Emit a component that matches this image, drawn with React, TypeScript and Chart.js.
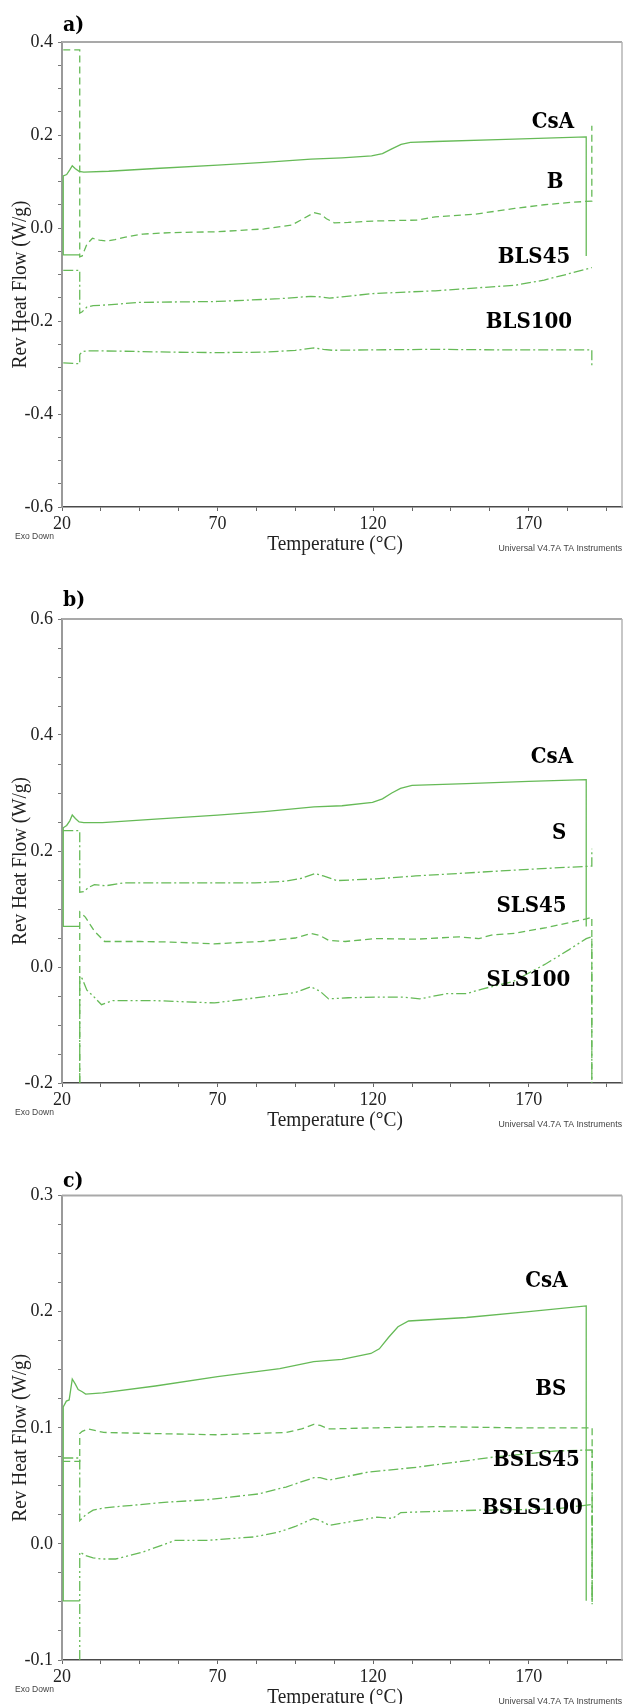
import React, { useEffect, useRef } from 'react';
import { Chart, registerables } from 'chart.js';

Chart.register(...registerables);

const LINE_COLOR = '#66ba57';

// ---------- shared axis ticks ----------
const xTickValues = [20, 32.5, 45, 57.5, 70, 82.5, 95, 107.5, 120, 132.5, 145, 157.5, 170, 182.5, 195];
const xTickLabels = [20, 70, 120, 170];

const aYTicks = [-0.6, -0.55, -0.5, -0.45, -0.4, -0.35, -0.3, -0.25, -0.2, -0.15, -0.1, -0.05, 0, 0.05, 0.1, 0.15, 0.2, 0.25, 0.3, 0.35, 0.4];
const aYLabels = [-0.6, -0.4, -0.2, 0, 0.2, 0.4];
const bYTicks = [-0.2, -0.15, -0.1, -0.05, 0, 0.05, 0.1, 0.15, 0.2, 0.25, 0.3, 0.35, 0.4, 0.45, 0.5, 0.55, 0.6];
const bYLabels = [-0.2, 0, 0.2, 0.4, 0.6];
const cYTicks = [-0.1, -0.075, -0.05, -0.025, 0, 0.025, 0.05, 0.075, 0.1, 0.125, 0.15, 0.175, 0.2, 0.225, 0.25, 0.275, 0.3];
const cYLabels = [-0.1, 0, 0.1, 0.2, 0.3];

// ---------- panel a ----------
const aCsA_T = [25.7, 20.4, 20.4, 21.5, 22.5, 23.3, 24.2, 25.5, 27, 35, 50, 70, 85, 100, 110, 119.5, 123, 126, 129, 132, 140, 160, 188.5, 188.5];
const aCsA_V = [-0.058, -0.058, 0.112, 0.115, 0.125, 0.134, 0.128, 0.122, 0.12, 0.122, 0.128, 0.135, 0.141, 0.148, 0.151, 0.155, 0.16, 0.17, 0.18, 0.184, 0.186, 0.19, 0.196, -0.06];
const aB_T = [20.4, 25.7, 25.7, 26.5, 28, 29.8, 32, 34.4, 37, 40, 46, 55, 70, 85, 93.7, 97, 101, 103, 105, 107.5, 112, 120, 134, 140, 153, 165.5, 175, 183.4, 190.3, 190.3];
const aB_V = [0.383, 0.383, -0.062, -0.06, -0.035, -0.022, -0.026, -0.028, -0.025, -0.02, -0.013, -0.01, -0.008, -0.002, 0.006, 0.018, 0.033, 0.03, 0.02, 0.011, 0.012, 0.015, 0.017, 0.024, 0.03, 0.042, 0.05, 0.055, 0.058, 0.22];
const aBLS45_T = [20.4, 25.7, 25.7, 26.5, 28, 30, 33, 45, 70, 90, 100, 103, 106, 110, 120, 140, 155, 165.8, 175, 182, 190.3];
const aBLS45_V = [-0.091, -0.091, -0.183, -0.18, -0.17, -0.167, -0.166, -0.16, -0.158, -0.152, -0.147, -0.148, -0.151, -0.148, -0.141, -0.135, -0.128, -0.123, -0.112, -0.1, -0.085];
const aBLS100_T = [20.4, 25.7, 25.7, 26.5, 28, 40, 55, 70, 85, 95, 101, 104, 107, 120, 140, 160, 175, 190.3, 190.3];
const aBLS100_V = [-0.29, -0.292, -0.272, -0.266, -0.264, -0.265, -0.267, -0.268, -0.267, -0.263, -0.258, -0.261, -0.263, -0.262, -0.261, -0.262, -0.262, -0.262, -0.296];
const aLabelNames = ['CsA', 'B', 'BLS45', 'BLS100'];
const aLabelT = [177.8, 178.5, 171.7, 170.1];
const aLabelV = [0.215, 0.086, -0.075, -0.215];

// ---------- panel b ----------
const bCsA_T = [25.7, 20.4, 20.4, 21.5, 22.5, 23.3, 24.3, 25.5, 27, 33, 50, 70, 85, 101, 110, 119.8, 123, 126, 128.8, 132.5, 150, 170, 188.5, 188.5];
const bCsA_V = [0.07, 0.07, 0.24, 0.244, 0.252, 0.262, 0.256, 0.25, 0.249, 0.249, 0.255, 0.262, 0.268, 0.276, 0.278, 0.284, 0.29, 0.3, 0.308, 0.313, 0.316, 0.32, 0.323, 0.07];
const bS_T = [20.4, 25.7, 25.7, 27, 28.5, 30.4, 34, 39.7, 60, 82, 92, 97, 101.3, 104, 108.3, 121, 133.7, 152.8, 172, 190.3, 190.3];
const bS_V = [0.235, 0.235, 0.129, 0.13, 0.137, 0.142, 0.14, 0.145, 0.145, 0.145, 0.148, 0.153, 0.161, 0.157, 0.149, 0.152, 0.157, 0.163, 0.169, 0.174, 0.204];
const bSLS45_T = [25.7, 25.7, 27.5, 30.4, 33.7, 45, 55, 68.9, 84, 95, 100, 103, 105.7, 111, 121, 134, 147.6, 154, 158, 165.5, 175.7, 188.5, 190.3, 190.3];
const bSLS45_V = [-0.2, 0.095, 0.086, 0.062, 0.044, 0.044, 0.043, 0.04, 0.044, 0.05, 0.058, 0.054, 0.046, 0.044, 0.049, 0.048, 0.052, 0.049, 0.055, 0.058, 0.068, 0.083, 0.086, -0.2];
const bSLS100_T = [25.7, 25.7, 26.5, 28, 30, 32.7, 36.3, 50, 69, 84, 95, 100, 103, 105.7, 112, 121, 130, 135, 143.6, 150, 155, 165, 175.7, 183, 188.5, 190.3, 190.3];
const bSLS100_V = [-0.2, -0.015, -0.02, -0.04, -0.05, -0.065, -0.058, -0.058, -0.062, -0.052, -0.044, -0.034, -0.042, -0.055, -0.053, -0.052, -0.052, -0.055, -0.046, -0.046, -0.038, -0.025, 0.006, 0.03, 0.049, 0.052, -0.2];
const bLabelNames = ['CsA', 'S', 'SLS45', 'SLS100'];
const bLabelT = [177.5, 179.8, 170.9, 169.9];
const bLabelV = [0.351, 0.221, 0.095, -0.032];

// ---------- panel c ----------
const cCsA_T = [25.7, 20.4, 20.4, 21.4, 22.3, 23.3, 24.2, 25.2, 26.5, 27.6, 33, 50, 70, 90, 100.9, 110, 119.3, 122, 125, 128, 131.4, 150, 170, 188.5, 188.5];
const cCsA_V = [-0.049, -0.049, 0.118, 0.123, 0.124, 0.142, 0.138, 0.133, 0.131, 0.129, 0.13, 0.136, 0.144, 0.151, 0.157, 0.159, 0.164, 0.168, 0.178, 0.187, 0.192, 0.195, 0.2, 0.205, -0.049];
const cBS_T = [20.4, 25.7, 25.7, 26.5, 28.3, 33.4, 50, 70, 92, 97, 100.9, 103, 105.9, 121.2, 140.3, 165.8, 190.4, 190.4];
const cBS_V = [0.071, 0.071, 0.095, 0.097, 0.099, 0.096, 0.095, 0.094, 0.096, 0.099, 0.103, 0.102, 0.099, 0.1, 0.101, 0.1, 0.1, -0.052];
const cBSLS45_T = [20.4, 25.7, 25.7, 27.6, 30, 33.4, 53.8, 66.5, 83, 92, 100.9, 103, 105.9, 118.7, 133.9, 145.4, 159.4, 178.5, 190.4, 190.4];
const cBSLS45_V = [0.074, 0.074, 0.02, 0.025, 0.029, 0.031, 0.036, 0.038, 0.043, 0.049, 0.057, 0.057, 0.055, 0.062, 0.066, 0.07, 0.075, 0.08, 0.081, -0.052];
const cBSLS100_T = [25.7, 25.7, 27.6, 30, 32.8, 37.2, 46.1, 56.3, 66.5, 81.7, 89.4, 95, 100.9, 103, 105.9, 121.2, 126.3, 128.9, 140.3, 153, 178.5, 190.4, 190.4];
const cBSLS100_V = [-0.1, -0.007, -0.01, -0.012, -0.013, -0.013, -0.007, 0.003, 0.003, 0.006, 0.01, 0.015, 0.022, 0.02, 0.016, 0.023, 0.022, 0.027, 0.028, 0.029, 0.03, 0.034, -0.052];
const cLabelNames = ['CsA', 'BS', 'BSLS45', 'BSLS100'];
const cLabelT = [175.7, 177.1, 172.5, 171.2];
const cLabelV = [0.221, 0.128, 0.067, 0.0255];

// ---------- line styles ----------
const SOLID: number[] = [];
const DASH = [7, 4];
const DASH_DOT = [10, 3, 2, 3];
const DASH_DOT_DOT = [10, 3, 2, 3, 2, 3];

type Series = { name: string; t: number[]; v: number[]; dash: number[] };
type Panel = {
  tag: string;
  canvasH: number;
  plotTop: number;
  plotBottom: number;
  yMin: number;
  yMax: number;
  yTicks: number[];
  yLabels: number[];
  series: Series[];
  labelNames: string[];
  labelT: number[];
  labelV: number[];
  tagY: number;
};

const panels: Panel[] = [
  {
    tag: 'a)', canvasH: 565, plotTop: 42, plotBottom: 507, yMin: -0.6, yMax: 0.4,
    yTicks: aYTicks, yLabels: aYLabels, tagY: 31,
    series: [
      { name: 'CsA', t: aCsA_T, v: aCsA_V, dash: SOLID },
      { name: 'B', t: aB_T, v: aB_V, dash: DASH },
      { name: 'BLS45', t: aBLS45_T, v: aBLS45_V, dash: DASH_DOT },
      { name: 'BLS100', t: aBLS100_T, v: aBLS100_V, dash: DASH_DOT },
    ],
    labelNames: aLabelNames, labelT: aLabelT, labelV: aLabelV,
  },
  {
    tag: 'b)', canvasH: 570, plotTop: 54, plotBottom: 518, yMin: -0.2, yMax: 0.6,
    yTicks: bYTicks, yLabels: bYLabels, tagY: 41,
    series: [
      { name: 'CsA', t: bCsA_T, v: bCsA_V, dash: SOLID },
      { name: 'S', t: bS_T, v: bS_V, dash: DASH_DOT },
      { name: 'SLS45', t: bSLS45_T, v: bSLS45_V, dash: DASH },
      { name: 'SLS100', t: bSLS100_T, v: bSLS100_V, dash: DASH_DOT_DOT },
    ],
    labelNames: bLabelNames, labelT: bLabelT, labelV: bLabelV,
  },
  {
    tag: 'c)', canvasH: 569, plotTop: 60.6, plotBottom: 525, yMin: -0.1, yMax: 0.3,
    yTicks: cYTicks, yLabels: cYLabels, tagY: 52,
    series: [
      { name: 'CsA', t: cCsA_T, v: cCsA_V, dash: SOLID },
      { name: 'BS', t: cBS_T, v: cBS_V, dash: DASH },
      { name: 'BSLS45', t: cBSLS45_T, v: cBSLS45_V, dash: DASH_DOT },
      { name: 'BSLS100', t: cBSLS100_T, v: cBSLS100_V, dash: DASH_DOT_DOT },
    ],
    labelNames: cLabelNames, labelT: cLabelT, labelV: cLabelV,
  },
];

const W = 623;
const Y_AXIS_W = 62;

function drawText(ctx: CanvasRenderingContext2D, text: string, x: number, y: number, font: string,
  align: CanvasTextAlign, sx: number, color: string, rotate = 0) {
  ctx.save();
  ctx.font = font;
  ctx.fillStyle = color;
  ctx.textBaseline = 'alphabetic';
  ctx.textAlign = align;
  ctx.translate(x, y);
  if (rotate) ctx.rotate(rotate);
  ctx.scale(sx, 1);
  ctx.fillText(text, 0, 0);
  ctx.restore();
}

function near(list: number[], v: number) {
  return list.some((l) => Math.abs(l - v) < 1e-9);
}

function makeChart(canvas: HTMLCanvasElement, p: Panel) {
  const datasets = p.series.map((s) => ({
    label: s.name,
    data: s.t.map((t, i) => ({ x: t, y: s.v[i] })),
    borderColor: LINE_COLOR,
    borderWidth: 1.3,
    borderDash: s.dash,
    pointRadius: 0,
    tension: 0,
    fill: false,
  }));

  const textPlugin = {
    id: 'panelText' + p.tag,
    afterDraw(chart: any) {
      const ctx: CanvasRenderingContext2D = chart.ctx;
      const ca = chart.chartArea;
      const xs = chart.scales.x;
      const ys = chart.scales.y;
      ctx.save();
      ctx.strokeStyle = '#a9a9a9';
      ctx.lineWidth = 2;
      ctx.beginPath();
      ctx.moveTo(ca.left, ca.top);
      ctx.lineTo(ca.right, ca.top);
      ctx.stroke();
      ctx.lineWidth = 1.5;
      ctx.strokeStyle = '#b5b5b5';
      ctx.beginPath();
      ctx.moveTo(ca.right, ca.top);
      ctx.lineTo(ca.right, ca.bottom);
      ctx.stroke();
      ctx.restore();

      // panel tag
      drawText(ctx, p.tag, 63, p.tagY, 'bold 21px "DejaVu Serif", serif', 'left', 0.9, '#000');
      // y title
      const cy = (ca.top + ca.bottom) / 2 + 10;
      drawText(ctx, 'Rev Heat Flow (W/g)', 26, cy, '20px "Liberation Serif", serif', 'center', 0.965, '#222', -Math.PI / 2);
      // x title
      drawText(ctx, 'Temperature (°C)', 335, ca.bottom + 42.6, '21px "Liberation Serif", serif', 'center', 0.92, '#222');
      drawText(ctx, 'Exo Down', 15, ca.bottom + 32, '9px "Liberation Sans", sans-serif', 'left', 0.95, '#444');
      drawText(ctx, 'Universal V4.7A TA Instruments', 622, ca.bottom + 44, '9px "Liberation Sans", sans-serif', 'right', 0.97, '#444');
      // series labels
      p.labelNames.forEach((name, i) => {
        const px = xs.getPixelForValue(p.labelT[i]);
        const py = ys.getPixelForValue(p.labelV[i]);
        drawText(ctx, name, px, py, 'bold 22px "DejaVu Serif", serif', 'center', 0.9, '#000');
      });
    },
  };

  return new Chart(canvas, {
    type: 'line',
    data: { datasets },
    options: {
      animation: false,
      responsive: false,
      devicePixelRatio: 1,
      events: [],
      layout: { padding: { top: p.plotTop, left: 0, right: 1, bottom: 0 } },
      plugins: { legend: { display: false }, tooltip: { enabled: false } },
      scales: {
        x: {
          type: 'linear',
          min: 20,
          max: 200,
          afterBuildTicks: (s: any) => { s.ticks = xTickValues.map((v) => ({ value: v })); },
          afterFit: (s: any) => { s.height = p.canvasH - p.plotBottom; },
          ticks: {
            autoSkip: false,
            maxRotation: 0,
            padding: 2,
            color: '#222',
            font: { family: '"Liberation Serif", serif', size: 18 },
            callback: (v: any) => (near(xTickLabels, Number(v)) ? String(v) : ''),
          },
          grid: { drawOnChartArea: false, drawTicks: true, tickLength: 4, color: '#666' },
          border: { color: '#4a4a4a', width: 1.5 },
        },
        y: {
          type: 'linear',
          min: p.yMin,
          max: p.yMax,
          afterBuildTicks: (s: any) => { s.ticks = p.yTicks.map((v) => ({ value: v })); },
          afterFit: (s: any) => { s.width = Y_AXIS_W; },
          ticks: {
            autoSkip: false,
            padding: 5,
            color: '#222',
            font: { family: '"Liberation Serif", serif', size: 18 },
            callback: (v: any) => (near(p.yLabels, Number(v)) ? Number(v).toFixed(1) : ''),
          },
          grid: { drawOnChartArea: false, drawTicks: true, tickLength: 4, color: '#777' },
          border: { color: '#9a9a9a', width: 2 },
        },
      },
    },
    plugins: [textPlugin],
  } as any);
}

function PanelChart({ p }: { p: Panel }) {
  const ref = useRef<HTMLCanvasElement | null>(null);
  useEffect(() => {
    if (!ref.current) return;
    const chart = makeChart(ref.current, p);
    return () => chart.destroy();
  }, [p]);
  return <canvas ref={ref} width={W} height={p.canvasH} style={{ display: 'block', width: W, height: p.canvasH }} />;
}

export default function App() {
  return (
    <div style={{ position: 'absolute', left: 0, top: 0, width: W, height: 1704, background: '#fff', overflow: 'hidden' }}>
      {panels.map((p) => (
        <PanelChart key={p.tag} p={p} />
      ))}
    </div>
  );
}
